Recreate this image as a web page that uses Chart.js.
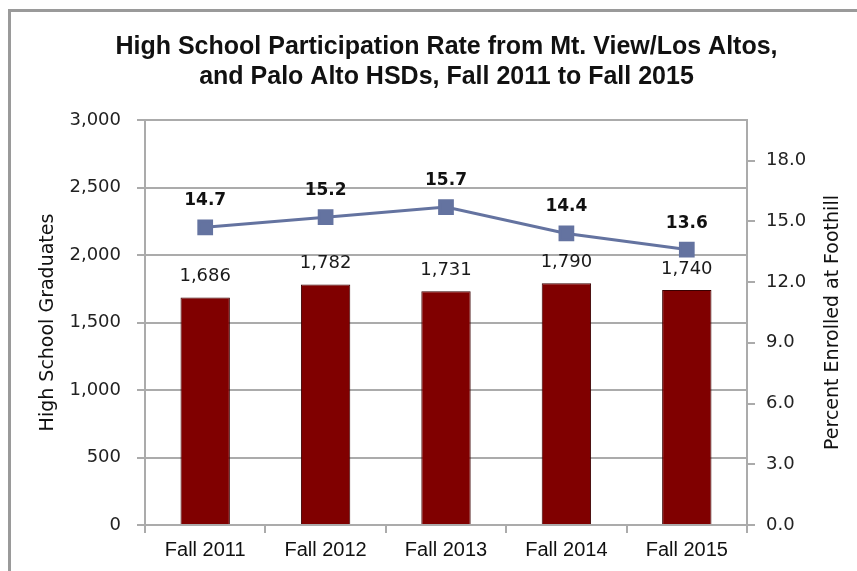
<!DOCTYPE html>
<html>
<head>
<meta charset="utf-8">
<script src="https://cdn.jsdelivr.net/npm/chart.js@4/dist/chart.umd.min.js"></script>
<style>
  html, body { margin: 0; padding: 0; background: #fff; }
  #wrap { width: 857px; height: 571px; }
</style>
</head>
<body>
<div id="wrap"><canvas id="chart" width="857" height="571"></canvas></div>
<script>
// dati
const categories = ['Fall 2011', 'Fall 2012', 'Fall 2013', 'Fall 2014', 'Fall 2015'];
const graduates = [1686, 1782, 1731, 1790, 1740];
const percentEnrolled = [14.7, 15.2, 15.7, 14.4, 13.6];
const leftTicks = [0, 500, 1000, 1500, 2000, 2500, 3000];
const rightTicks = [0, 3, 6, 9, 12, 15, 18];

const narrow = '"Liberation Sans Narrow", "Liberation Sans", Arial, sans-serif';
const verdana = '"DejaVu Sans", Verdana, sans-serif';
const gridGray = '#ababab';
const rightTitle = 'Percent Enrolled at Foothill';

// cornice a sinistra e in alto
const framePlugin = {
  id: 'frame',
  beforeDraw(chart) {
    const c = chart.ctx;
    c.save();
    c.fillStyle = '#fff';
    c.fillRect(0, 0, chart.width, chart.height);
    c.fillStyle = '#9a9a9a';
    c.fillRect(8, 9, 3, chart.height);
    c.fillRect(8, 9, chart.width, 3);
    c.restore();
  }
};

// titolo dell'asse destro, letto dal basso verso l'alto come nell'originale
const rightTitlePlugin = {
  id: 'rightTitle',
  afterDraw(chart) {
    const s = chart.scales.y1;
    const c = chart.ctx;
    c.save();
    c.translate(s.right - 24, (s.top + s.bottom) / 2);
    c.rotate(-Math.PI / 2);
    c.font = '19px ' + verdana;
    c.fillStyle = '#111';
    c.textAlign = 'center';
    c.textBaseline = 'middle';
    c.fillText(rightTitle, 0, 0);
    c.restore();
  }
};

// etichette dei valori
const labelsPlugin = {
  id: 'valueLabels',
  afterDatasetsDraw(chart) {
    const c = chart.ctx;
    c.save();
    c.textAlign = 'center';
    c.textBaseline = 'alphabetic';

    const bars = chart.getDatasetMeta(1);
    c.font = '18px ' + verdana;
    c.fillStyle = '#1a1a1a';
    bars.data.forEach((el, i) => {
      c.fillText(graduates[i].toLocaleString('en-US'), el.x, el.y - 16);
    });

    const pts = chart.getDatasetMeta(0);
    c.font = 'bold 17px ' + verdana;
    c.fillStyle = '#111';
    pts.data.forEach((el, i) => {
      c.fillText(percentEnrolled[i].toFixed(1), el.x, el.y - 22);
    });
    c.restore();
  }
};

new Chart(document.getElementById('chart'), {
  data: {
    labels: categories,
    datasets: [
      {
        type: 'line',
        label: rightTitle,
        data: percentEnrolled,
        yAxisID: 'y1',
        borderColor: '#6473a0',
        backgroundColor: '#6473a0',
        borderWidth: 3,
        pointStyle: 'rect',
        pointRadius: 9,
        pointBackgroundColor: '#6473a0',
        pointBorderColor: '#6473a0',
        tension: 0,
        order: 0,
      },
      {
        type: 'bar',
        label: 'High School Graduates',
        data: graduates,
        yAxisID: 'y',
        backgroundColor: '#800000',
        borderColor: '#3a0000',
        borderWidth: 1,
        barPercentage: 0.41,
        categoryPercentage: 1,
        order: 1,
      },
    ],
  },
  options: {
    responsive: false,
    animation: false,
    // il riquadro originale continua a destra: il titolo risulta spostato
    layout: { padding: { left: 36, right: 0, top: 0, bottom: 0 } },
    plugins: {
      legend: { display: false },
      tooltip: { enabled: false },
      title: {
        display: true,
        text: ['High School Participation Rate from Mt. View/Los Altos,', 'and Palo Alto HSDs, Fall 2011 to Fall 2015'],
        color: '#111',
        font: { family: narrow, size: 25, weight: 'bold', lineHeight: 1.2 },
        padding: { top: 32, bottom: 28 },
      },
    },
    scales: {
      x: {
        offset: true,
        grid: { offset: true, drawOnChartArea: false, color: gridGray, lineWidth: 2, tickLength: 8 },
        border: { display: true, color: gridGray, width: 2 },
        ticks: { color: '#111', font: { family: narrow, size: 20 }, padding: 5 },
        afterFit: s => { s.height = 46; },
      },
      y: {
        position: 'left',
        min: 0,
        max: 3000,
        afterBuildTicks: s => { s.ticks = leftTicks.map(v => ({ value: v })); },
        ticks: {
          color: '#222',
          font: { family: verdana, size: 18 },
          padding: 16,
          callback: v => v.toLocaleString('en-US'),
        },
        grid: { color: gridGray, lineWidth: 2, tickLength: 8 },
        border: { display: true, color: gridGray, width: 2 },
        title: {
          display: true,
          text: 'High School Graduates',
          color: '#111',
          font: { family: verdana, size: 19 },
          padding: { top: 1, bottom: 0 },
        },
        afterFit: s => { s.width = 109; },
      },
      y1: {
        position: 'right',
        min: 0,
        max: 20,
        afterBuildTicks: s => { s.ticks = rightTicks.map(v => ({ value: v })); },
        ticks: {
          color: '#222',
          font: { family: verdana, size: 18 },
          padding: 11,
          callback: v => v.toFixed(1),
        },
        grid: { drawOnChartArea: false, color: gridGray, lineWidth: 2, tickLength: 8 },
        border: { display: true, color: gridGray, width: 2 },
        afterFit: s => { s.width = 110; },
      },
    },
  },
  plugins: [framePlugin, labelsPlugin, rightTitlePlugin],
});
</script>
</body>
</html>
